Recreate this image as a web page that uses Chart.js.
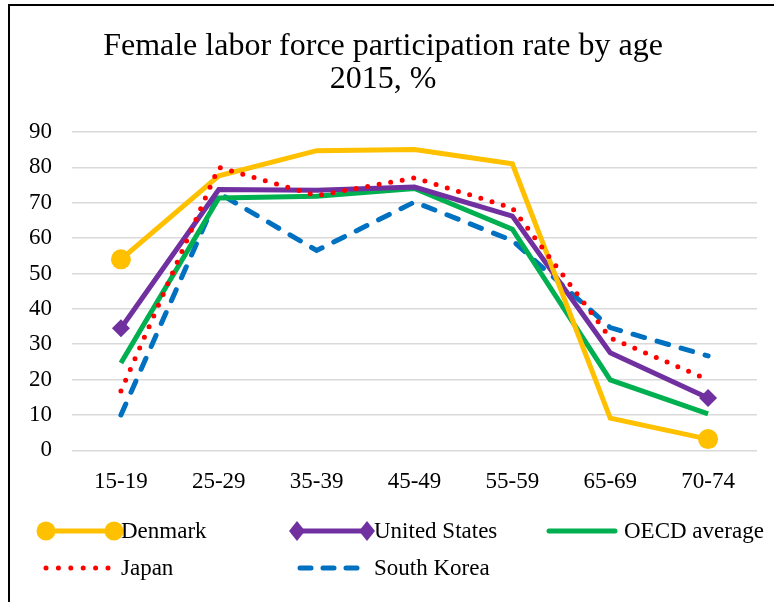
<!DOCTYPE html>
<html><head><meta charset="utf-8">
<script src="https://cdn.jsdelivr.net/npm/chart.js@4/dist/chart.umd.min.js"></script>
<style>html,body{margin:0;padding:0;background:#fff;}#wrap{width:774px;height:602px;position:relative;}</style>
</head><body><div id="wrap"><canvas id="c" width="774" height="602"></canvas></div>
<script>
const categories = ["15-19","25-29","35-39","45-49","55-59","65-69","70-74"];
const denmark = [54, 77.6, 84.7, 85, 81, 9.1, 3.2];
const unitedStates = [34.5, 73.7, 73.5, 74.4, 66.2, 27.6, 14.8];
const oecdAverage = [24.7, 71.3, 71.8, 74, 62.5, 19.9, 10.3];
const japan = [16.8, 80, 72, 77, 68.5, 31.8, 20];
const southKorea = [10, 72.7, 56.5, 70.2, 59.3, 34.7, 26.7];
const seriesNames = ["Denmark","United States","OECD average","Japan","South Korea"];
const titleLines = ["Female labor force participation rate by age","2015, %"];

const FONT = "'Liberation Serif','Times New Roman',serif";
const COL = {dk:"#FFC000", us:"#7030A0", oecd:"#00B050", jp:"#FF0000", kr:"#0070C0"};
const endsOnly = r => categories.map((_, i) => (i === 0 || i === categories.length - 1) ? r : 0);

const frameAndLegend = {
  id: 'frameAndLegend',
  afterDraw(chart) {
    const ctx = chart.ctx;
    ctx.save();
    ctx.strokeStyle = '#000'; ctx.lineWidth = 2; ctx.setLineDash([]);
    ctx.beginPath(); ctx.moveTo(9, 602); ctx.lineTo(9, 5); ctx.lineTo(774, 5); ctx.stroke();
    ctx.font = "23px " + FONT; ctx.textBaseline = 'middle'; ctx.textAlign = 'left';
    function seg(x1, x2, y, color, width, dash, cap) {
      ctx.save(); ctx.strokeStyle = color; ctx.lineWidth = width; ctx.setLineDash(dash); ctx.lineCap = cap;
      ctx.beginPath(); ctx.moveTo(x1, y); ctx.lineTo(x2, y); ctx.stroke(); ctx.restore();
    }
    const r1 = 531, r2 = 568;
    seg(46, 114, r1, COL.dk, 5, [], 'butt');
    ctx.fillStyle = COL.dk;
    [46, 114].forEach(x => { ctx.beginPath(); ctx.arc(x, r1, 9.5, 0, Math.PI * 2); ctx.fill(); });
    seg(297, 367, r1, COL.us, 5, [], 'butt');
    ctx.fillStyle = COL.us;
    [297, 367].forEach(x => { ctx.beginPath(); ctx.moveTo(x, r1 - 10); ctx.lineTo(x + 8, r1); ctx.lineTo(x, r1 + 10); ctx.lineTo(x - 8, r1); ctx.closePath(); ctx.fill(); });
    seg(549, 615, r1, COL.oecd, 5, [], 'round');
    seg(46, 108, r2, COL.jp, 5, [0, 12.4], 'round');
    seg(300, 358, r2, COL.kr, 5, [11, 12], 'round');
    ctx.fillStyle = '#000';
    ctx.fillText(seriesNames[0], 121, r1 + 1);
    ctx.fillText(seriesNames[1], 374, r1 + 1);
    ctx.fillText(seriesNames[2], 624, r1 + 1);
    ctx.fillText(seriesNames[3], 121, r2 + 1);
    ctx.fillText(seriesNames[4], 374, r2 + 1);
    ctx.restore();
  }
};

new Chart(document.getElementById('c'), {
  type: 'line',
  data: {
    labels: categories,
    datasets: [
      {label: seriesNames[4], data: southKorea, borderColor: COL.kr, backgroundColor: COL.kr, borderWidth: 5, borderDash: [12, 13], borderCapStyle: 'round', pointRadius: 0, order: 5},
      {label: seriesNames[3], data: japan, borderColor: COL.jp, backgroundColor: COL.jp, borderWidth: 5, borderDash: [0, 11.7], borderCapStyle: 'round', pointRadius: 0, order: 1},
      {label: seriesNames[2], data: oecdAverage, borderColor: COL.oecd, backgroundColor: COL.oecd, borderWidth: 5, pointRadius: 0, order: 4},
      {label: seriesNames[1], data: unitedStates, borderColor: COL.us, backgroundColor: COL.us, borderWidth: 5, pointStyle: 'rectRot', pointRadius: endsOnly(9), pointBorderWidth: 0, order: 3},
      {label: seriesNames[0], data: denmark, borderColor: COL.dk, backgroundColor: COL.dk, borderWidth: 5, pointStyle: 'circle', pointRadius: endsOnly(10), pointBorderWidth: 0, order: 2}
    ]
  },
  options: {
    responsive: false, animation: false,
    layout: {padding: {left: 9, right: 17, top: 5, bottom: 88}},
    elements: {line: {tension: 0, borderJoinStyle: 'miter'}},
    plugins: {
      legend: {display: false},
      tooltip: {enabled: false},
      title: {display: true, text: titleLines, color: '#000', font: {family: FONT, size: 32, weight: 'normal', lineHeight: 1.03}, padding: {top: 25, bottom: 36}}
    },
    scales: {
      x: {offset: true, grid: {display: false, drawTicks: false}, border: {display: false},
          ticks: {color: '#000', font: {family: FONT, size: 23}, padding: 18}},
      y: {min: 0, max: 90, grid: {color: '#d9d9d9', lineWidth: 1.5, drawTicks: false}, border: {display: false},
          ticks: {stepSize: 10, color: '#000', font: {family: FONT, size: 23}, padding: 20}}
    }
  },
  plugins: [frameAndLegend]
});
</script></body></html>
